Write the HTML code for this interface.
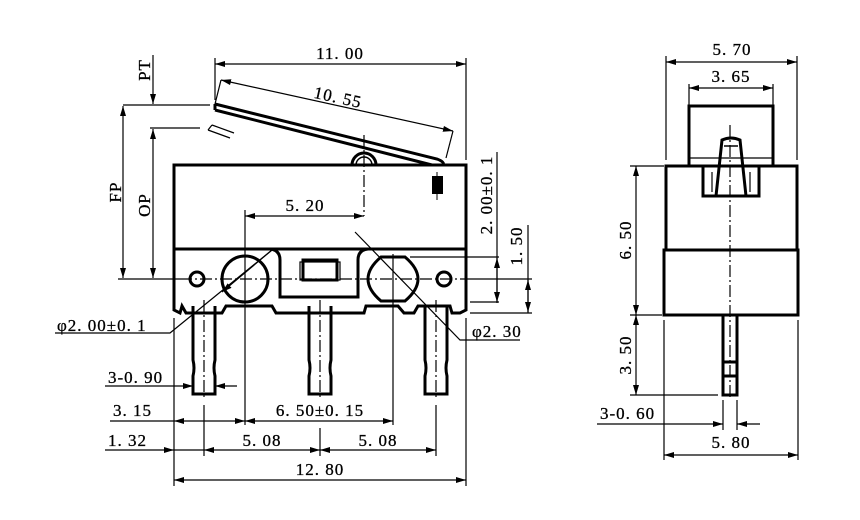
<!DOCTYPE html>
<html><head><meta charset="utf-8"><style>
html,body{margin:0;padding:0;background:#fff;width:860px;height:520px;overflow:hidden}
text{font-family:"Liberation Serif","Noto Serif CJK SC",serif;font-size:17px;fill:#000;letter-spacing:1px;stroke:#000;stroke-width:0.3}
</style></head><body>
<svg width="860" height="520" viewBox="0 0 860 520" xmlns="http://www.w3.org/2000/svg">
<defs>
<marker id="a" viewBox="0 0 10 6" refX="10" refY="3" markerWidth="10" markerHeight="6" orient="auto-start-reverse" markerUnits="userSpaceOnUse"><path d="M0,0 L10,3 L0,6 z" fill="#000"/></marker>
</defs>
<g fill="none" stroke="#000">
<g stroke-width="3">
<rect x="174" y="165" width="292" height="84"/>
<path d="M174,249 L270,249 Q280,250 280,260 L280,297 L358,297 L358,260 Q358,250 368,249 L466,249 L466,310 L460,313 L452,313 L450,306 L418,306 L414,313 L404,313 L398,306 L366,306 L364,313 L276,313 L272,306 L226,306 L222,313 L186,313 L182,306 L180,313 L174,310 Z" fill="#fff"/>
<circle cx="245" cy="279" r="23"/>
<path d="M381,257 L405,257 Q418,268 418,279 Q418,290 405,301 L381,301 Q368,290 368,279 Q368,268 381,257 Z"/>
<circle cx="197" cy="279" r="7"/>
<circle cx="444" cy="279" r="7"/>
<rect x="303" y="260" width="34" height="20"/>
<path d="M193,306 L193,360 Q195,368 193,376 L193,394 L215,394 L215,376 Q213,368 215,360 L215,306"/>
<path d="M309,306 L309,360 Q311,368 309,376 L309,394 L331,394 L331,376 Q329,368 331,360 L331,306"/>
<path d="M425,306 L425,360 Q427,368 425,376 L425,394 L447,394 L447,376 Q445,368 447,360 L447,306"/>
<path d="M215,104 L437,159 Q445,162 443,165 M215,110 L432,165 M215,104 L215,110"/>
<path d="M352,165 A12,12 0 0 1 376,165"/>
<path d="M356,165 A8,8 0 0 1 372,165" stroke-width="1.5"/>
</g>
<rect x="300" y="262" width="40" height="18" stroke-width="1.2"/>
<rect x="432" y="176" width="11" height="18" fill="#000" stroke="none"/>
<line x1="437" y1="172" x2="437" y2="200" stroke-width="1"/>
<g stroke-width="1.2" stroke-dasharray="12,3,2,3">
<line x1="180" y1="279" x2="470" y2="279"/>
<line x1="204" y1="300" x2="204" y2="400"/>
<line x1="320" y1="300" x2="320" y2="400"/>
<line x1="436" y1="300" x2="436" y2="400"/>
<line x1="364" y1="135" x2="364" y2="216"/>
<line x1="730" y1="125" x2="730" y2="400"/>
</g>
<g stroke-width="1.2">
<line x1="245" y1="210" x2="245" y2="425"/>
<line x1="393" y1="254" x2="393" y2="425"/>
<line x1="215" y1="58" x2="215" y2="100"/>
<line x1="466" y1="58" x2="466" y2="160"/>
<line x1="215" y1="64" x2="466" y2="64" marker-start="url(#a)" marker-end="url(#a)"/>
<line x1="221" y1="80" x2="453" y2="131" marker-start="url(#a)" marker-end="url(#a)"/>
<line x1="453" y1="131" x2="446" y2="158"/>
<line x1="221" y1="80" x2="215" y2="104"/>
<line x1="123" y1="105" x2="210" y2="105"/>
<line x1="150" y1="128" x2="200" y2="128"/>
<line x1="208" y1="130" x2="230" y2="138"/>
<line x1="212" y1="125" x2="234" y2="133"/>
<line x1="208" y1="130" x2="212" y2="125"/>
<line x1="153" y1="55" x2="153" y2="104" marker-end="url(#a)"/>
<line x1="123" y1="106" x2="123" y2="278" marker-start="url(#a)" marker-end="url(#a)"/>
<line x1="153" y1="129" x2="153" y2="278" marker-start="url(#a)" marker-end="url(#a)"/>
<line x1="118" y1="279" x2="180" y2="279"/>
<line x1="245" y1="216" x2="364" y2="216" marker-start="url(#a)" marker-end="url(#a)"/>
<!-- 2.00 / 1.50 -->
<line x1="497" y1="152" x2="497" y2="303"/>
<line x1="497" y1="280" x2="497" y2="258" marker-end="url(#a)"/>
<line x1="497" y1="280" x2="497" y2="302" marker-end="url(#a)"/>
<line x1="410" y1="257" x2="499" y2="257"/>
<line x1="470" y1="302" x2="499" y2="302"/>
<line x1="470" y1="279" x2="532" y2="279"/>
<line x1="470" y1="313" x2="532" y2="313"/>
<line x1="528" y1="225" x2="528" y2="313"/>
<line x1="528" y1="296" x2="528" y2="280" marker-end="url(#a)"/>
<line x1="528" y1="296" x2="528" y2="312" marker-end="url(#a)"/>
<polyline points="55,333 170,333 272,250"/>
<line x1="272" y1="250" x2="222" y2="292" marker-end="url(#a)"/>
<polyline points="520,340 460,340 355,232"/>
<line x1="105" y1="386" x2="193" y2="386" marker-end="url(#a)"/>
<line x1="237" y1="386" x2="215" y2="386" marker-end="url(#a)"/>
<line x1="174" y1="318" x2="174" y2="486"/>
<line x1="466" y1="318" x2="466" y2="486"/>
<line x1="204" y1="405" x2="204" y2="456"/>
<line x1="436" y1="405" x2="436" y2="456"/>
<line x1="320" y1="428" x2="320" y2="456"/>
<line x1="110" y1="421" x2="174" y2="421"/>
<line x1="174" y1="421" x2="245" y2="421" marker-start="url(#a)" marker-end="url(#a)"/>
<line x1="245" y1="421" x2="393" y2="421" marker-start="url(#a)" marker-end="url(#a)"/>
<line x1="105" y1="450" x2="174" y2="450" marker-end="url(#a)"/>
<line x1="174" y1="450" x2="204" y2="450"/>
<line x1="204" y1="450" x2="320" y2="450" marker-start="url(#a)" marker-end="url(#a)"/>
<line x1="320" y1="450" x2="436" y2="450" marker-start="url(#a)" marker-end="url(#a)"/>
<line x1="174" y1="480" x2="466" y2="480" marker-start="url(#a)" marker-end="url(#a)"/>
</g>
<g stroke-width="3">
<rect x="689" y="106" width="84" height="60"/>
<rect x="666" y="166" width="131" height="84"/>
<rect x="664" y="250" width="134" height="65"/>
<path d="M703,166 L703,196 L759,196 L759,166"/>
<path d="M716,196 L722,140 Q731,136 740,140 L746,196"/>
<path d="M724,146 L738,146" stroke-width="1.5"/>
<rect x="723" y="315" width="14" height="80"/>
<line x1="723" y1="362" x2="737" y2="362"/>
<line x1="723" y1="376" x2="737" y2="376"/>
</g>
<g stroke-width="1.2">
<line x1="689" y1="158" x2="773" y2="158"/>
<line x1="712" y1="172" x2="712" y2="192"/><line x1="750" y1="172" x2="750" y2="192"/>
<line x1="666" y1="56" x2="666" y2="160"/>
<line x1="797" y1="56" x2="797" y2="160"/>
<line x1="666" y1="62" x2="797" y2="62" marker-start="url(#a)" marker-end="url(#a)"/>
<line x1="689" y1="84" x2="689" y2="106"/>
<line x1="773" y1="84" x2="773" y2="106"/>
<line x1="689" y1="88" x2="773" y2="88" marker-start="url(#a)" marker-end="url(#a)"/>
<line x1="630" y1="166" x2="664" y2="166"/>
<line x1="630" y1="315" x2="662" y2="315"/>
<line x1="630" y1="395" x2="718" y2="395"/>
<line x1="636" y1="166" x2="636" y2="315" marker-start="url(#a)" marker-end="url(#a)"/>
<line x1="636" y1="315" x2="636" y2="395" marker-start="url(#a)" marker-end="url(#a)"/>
<line x1="723" y1="400" x2="723" y2="430"/>
<line x1="737" y1="400" x2="737" y2="430"/>
<line x1="597" y1="424" x2="723" y2="424" marker-end="url(#a)"/>
<line x1="760" y1="424" x2="737" y2="424" marker-end="url(#a)"/>
<line x1="664" y1="320" x2="664" y2="460"/>
<line x1="798" y1="320" x2="798" y2="460"/>
<line x1="664" y1="455" x2="798" y2="455" marker-start="url(#a)" marker-end="url(#a)"/>
</g>
</g>
<text x="340" y="59" text-anchor="middle">11. 00</text>
<text x="338" y="103" text-anchor="middle" transform="rotate(12.5 338 97)">10. 55</text>
<text x="0" y="0" text-anchor="middle" transform="translate(150,70) rotate(-90)">PT</text>
<text x="0" y="0" text-anchor="middle" transform="translate(121,192) rotate(-90)">FP</text>
<text x="0" y="0" text-anchor="middle" transform="translate(150,205) rotate(-90)">OP</text>
<text x="305" y="211" text-anchor="middle">5. 20</text>
<text x="0" y="0" text-anchor="middle" transform="translate(492,195) rotate(-90)">2. 00±0. 1</text>
<text x="0" y="0" text-anchor="middle" transform="translate(522,246) rotate(-90)">1. 50</text>
<text x="57" y="331">φ2. 00±0. 1</text>
<text x="472" y="337">φ2. 30</text>
<text x="108" y="383">3-0. 90</text>
<text x="113" y="416">3. 15</text>
<text x="320" y="416" text-anchor="middle">6. 50±0. 15</text>
<text x="108" y="446">1. 32</text>
<text x="262" y="446" text-anchor="middle">5. 08</text>
<text x="378" y="446" text-anchor="middle">5. 08</text>
<text x="320" y="475" text-anchor="middle">12. 80</text>
<text x="732" y="55" text-anchor="middle">5. 70</text>
<text x="731" y="82" text-anchor="middle">3. 65</text>
<text x="0" y="0" text-anchor="middle" transform="translate(631,240) rotate(-90)">6. 50</text>
<text x="0" y="0" text-anchor="middle" transform="translate(631,355) rotate(-90)">3. 50</text>
<text x="600" y="419">3-0. 60</text>
<text x="731" y="448" text-anchor="middle">5. 80</text>
</svg>
</body></html>
